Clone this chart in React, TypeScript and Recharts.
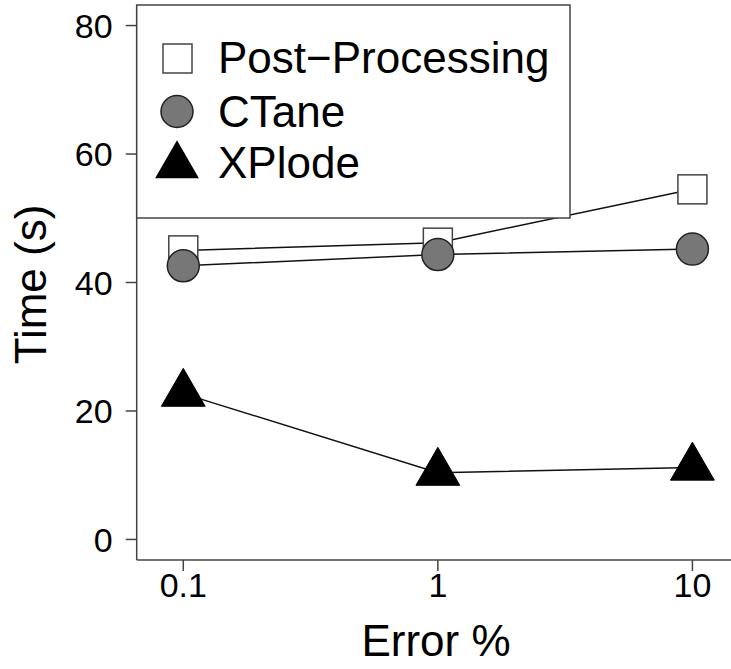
import React from 'react';
import { LineChart, Line, XAxis, YAxis } from 'recharts';

const xValues = [0.1, 1, 10];
const postProcessing = [45.0, 46.2, 54.5];
const cTane = [42.6, 44.35, 45.2];
const xPlode = [22.7, 10.4, 11.2];
const yTicks = [0, 20, 40, 60, 80];
const xTicks = [0.1, 1, 10];
const seriesNames = ['Post\u2212Processing', 'CTane', 'XPlode'];

const data = xValues.map((x, i) => ({
  x,
  pp: postProcessing[i],
  ct: cTane[i],
  xp: xPlode[i],
}));

const FONT = '"Liberation Sans", Arial, Helvetica, sans-serif';
const AXIS = '#444';

const SquareDot = (props: any) => {
  const { cx, cy, index } = props;
  if (cx == null || cy == null) return null;
  return <rect key={`sq-${index}`} x={cx - 14.5} y={cy - 14.5} width={29} height={29} fill="#fff" stroke="#444" strokeWidth={1.5} />;
};
const CircleDot = (props: any) => {
  const { cx, cy, index } = props;
  if (cx == null || cy == null) return null;
  return <circle key={`ci-${index}`} cx={cx} cy={cy} r={16} fill="#777" stroke="#222" strokeWidth={1.5} />;
};
const triPath = (cx: number, cy: number) => {
  const r = 25.3;
  const hw = 21.9;
  return `M${cx},${cy - r} L${cx + hw},${cy + r / 2} L${cx - hw},${cy + r / 2} Z`;
};
const TriDot = (props: any) => {
  const { cx, cy, index } = props;
  if (cx == null || cy == null) return null;
  return <path key={`tr-${index}`} d={triPath(cx, cy)} fill="#000" stroke="#000" strokeWidth={1} />;
};

const XTitle = () => (
  <text x={436} y={656} textAnchor="middle" fontSize={44} fontFamily={FONT} fill="#000">Error %</text>
);
const YTitle = () => (
  <text x={46} y={284.5} textAnchor="middle" fontSize={44} fontFamily={FONT} fill="#000" transform="rotate(-90, 46, 284.5)">Time (s)</text>
);

export default function App() {
  return (
    <div style={{ position: 'absolute', left: 0, top: 0, width: 731, height: 669, overflow: 'hidden', background: '#fff' }}>
      <LineChart
        width={760}
        height={669}
        data={data}
        margin={{ top: 5, right: 21, left: 76.7, bottom: 69 }}
      >
        <XAxis
          dataKey="x"
          type="number"
          scale="log"
          domain={[Math.pow(10, -1.183), Math.pow(10, 1.183)]}
          allowDataOverflow
          ticks={xTicks}
          tickFormatter={(v: number) => String(v)}
          height={40}
          stroke={AXIS}
          strokeWidth={1.5}
          tickSize={11}
          tickMargin={2}
          tick={{ fill: '#000', fontSize: 34, fontFamily: FONT }}
          label={<XTitle />}
        />
        <YAxis
          type="number"
          domain={[-3.2, 83.2]}
          allowDataOverflow
          ticks={yTicks}
          width={60}
          stroke={AXIS}
          strokeWidth={1.5}
          tickSize={11}
          tickMargin={13}
          tick={{ fill: '#000', fontSize: 34, fontFamily: FONT }}
          label={<YTitle />}
        />
        <Line dataKey="pp" name={seriesNames[0]} stroke="#111" strokeWidth={1.5} dot={SquareDot} isAnimationActive={false} />
        <Line dataKey="ct" name={seriesNames[1]} stroke="#111" strokeWidth={1.5} dot={CircleDot} isAnimationActive={false} />
        <Line dataKey="xp" name={seriesNames[2]} stroke="#111" strokeWidth={1.5} dot={TriDot} isAnimationActive={false} />
      </LineChart>
      <svg width={731} height={230} style={{ position: 'absolute', left: 0, top: 0, pointerEvents: 'none' }}>
        <rect x={136.7} y={5} width={433.3} height={213} fill="#fff" stroke={AXIS} strokeWidth={1.5} />
        <rect x={163} y={44} width={29} height={29} fill="#fff" stroke="#444" strokeWidth={1.5} />
        <circle cx={177} cy={111.5} r={16} fill="#777" stroke="#222" strokeWidth={1.5} />
        <path d={triPath(177, 165.5)} fill="#000" />
        <text x={218} y={73} fontSize={44} fontFamily={FONT} fill="#000">{seriesNames[0]}</text>
        <text x={218} y={127} fontSize={44} fontFamily={FONT} fill="#000">{seriesNames[1]}</text>
        <text x={218} y={178} fontSize={44} fontFamily={FONT} fill="#000">{seriesNames[2]}</text>
      </svg>
    </div>
  );
}
